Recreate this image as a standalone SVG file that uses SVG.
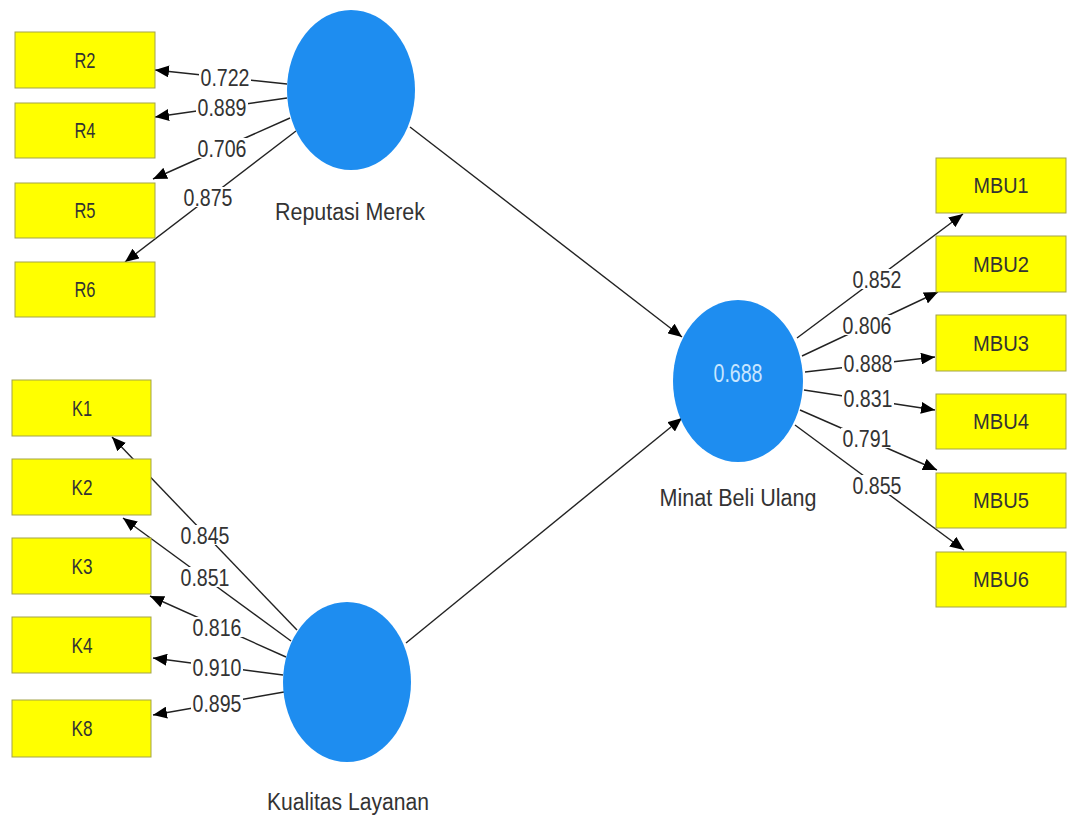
<svg xmlns="http://www.w3.org/2000/svg" width="1067" height="818" viewBox="0 0 1067 818">
<defs>
<style>
.box{fill:#ffff00;stroke:#a3a34a;stroke-width:1}
.lv{fill:#1e8df0}
.t{font-family:"Liberation Sans",Arial,sans-serif;font-size:22px;fill:#333;text-anchor:middle}
.lbl{font-family:"Liberation Sans",Arial,sans-serif;font-size:24px;fill:#333;text-anchor:middle}
.nm{font-family:"Liberation Sans",Arial,sans-serif;font-size:23px;fill:#333;text-anchor:middle}
.ln{stroke:#222;stroke-width:1.4;fill:none;marker-end:url(#ah)}
.bg{fill:#fff}
</style>
<marker id="ah" markerUnits="userSpaceOnUse" markerWidth="14" markerHeight="12" refX="14" refY="6" orient="auto">
<path d="M0,0 L14,6 L0,12 z" fill="#000"/>
</marker>
</defs>
<rect width="1067" height="818" fill="#fff"/>
<g id="connectors">
<line class="ln" x1="287" y1="84" x2="155" y2="70"/>
<line class="ln" x1="287" y1="98" x2="155" y2="117"/>
<line class="ln" x1="290" y1="118" x2="153" y2="179"/>
<line class="ln" x1="296" y1="131" x2="125" y2="262"/>
<line class="ln" x1="297" y1="630" x2="112" y2="437"/>
<line class="ln" x1="291" y1="641" x2="123" y2="518"/>
<line class="ln" x1="286" y1="657" x2="150" y2="596"/>
<line class="ln" x1="283" y1="675" x2="153" y2="658"/>
<line class="ln" x1="284" y1="692" x2="153" y2="715"/>
<line class="ln" x1="797" y1="338" x2="963" y2="214"/>
<line class="ln" x1="802" y1="356" x2="938" y2="292"/>
<line class="ln" x1="805" y1="372" x2="935" y2="357"/>
<line class="ln" x1="804" y1="390" x2="935" y2="410"/>
<line class="ln" x1="800" y1="410" x2="937" y2="470"/>
<line class="ln" x1="795" y1="425" x2="964" y2="550"/>
<line class="ln" x1="410" y1="127" x2="682" y2="337"/>
<line class="ln" x1="406" y1="643" x2="682" y2="418"/>
<g id="loading-labels">
<rect class="bg" x="199" y="67" width="52" height="20"/><text class="lbl" x="225" y="86" textLength="49" lengthAdjust="spacingAndGlyphs">0.722</text>
<rect class="bg" x="196" y="97" width="52" height="20"/><text class="lbl" x="222" y="116" textLength="49" lengthAdjust="spacingAndGlyphs">0.889</text>
<rect class="bg" x="196" y="138" width="52" height="20"/><text class="lbl" x="222" y="157" textLength="49" lengthAdjust="spacingAndGlyphs">0.706</text>
<rect class="bg" x="182" y="187" width="52" height="20"/><text class="lbl" x="208" y="206" textLength="49" lengthAdjust="spacingAndGlyphs">0.875</text>
<rect class="bg" x="179" y="525" width="52" height="20"/><text class="lbl" x="205" y="544" textLength="49" lengthAdjust="spacingAndGlyphs">0.845</text>
<rect class="bg" x="179" y="567" width="52" height="20"/><text class="lbl" x="205" y="586" textLength="49" lengthAdjust="spacingAndGlyphs">0.851</text>
<rect class="bg" x="191" y="617" width="52" height="20"/><text class="lbl" x="217" y="636" textLength="49" lengthAdjust="spacingAndGlyphs">0.816</text>
<rect class="bg" x="191" y="657" width="52" height="20"/><text class="lbl" x="217" y="676" textLength="49" lengthAdjust="spacingAndGlyphs">0.910</text>
<rect class="bg" x="191" y="693" width="52" height="20"/><text class="lbl" x="217" y="712" textLength="49" lengthAdjust="spacingAndGlyphs">0.895</text>
<rect class="bg" x="851" y="269" width="52" height="20"/><text class="lbl" x="877" y="288" textLength="49" lengthAdjust="spacingAndGlyphs">0.852</text>
<rect class="bg" x="841" y="315" width="52" height="20"/><text class="lbl" x="867" y="334" textLength="49" lengthAdjust="spacingAndGlyphs">0.806</text>
<rect class="bg" x="842" y="353" width="52" height="20"/><text class="lbl" x="868" y="372" textLength="49" lengthAdjust="spacingAndGlyphs">0.888</text>
<rect class="bg" x="842" y="388" width="52" height="20"/><text class="lbl" x="868" y="407" textLength="49" lengthAdjust="spacingAndGlyphs">0.831</text>
<rect class="bg" x="841" y="428" width="52" height="20"/><text class="lbl" x="867" y="447" textLength="49" lengthAdjust="spacingAndGlyphs">0.791</text>
<rect class="bg" x="851" y="475" width="52" height="20"/><text class="lbl" x="877" y="494" textLength="49" lengthAdjust="spacingAndGlyphs">0.855</text>
</g>
</g>
<g id="reputasi-merek"><ellipse class="lv" cx="351" cy="90" rx="64" ry="80"/><text class="nm" x="350" y="220" textLength="150" lengthAdjust="spacingAndGlyphs">Reputasi Merek</text></g>
<g id="kualitas-layanan"><ellipse class="lv" cx="347" cy="682" rx="64" ry="80"/><text class="nm" x="348" y="810" textLength="162" lengthAdjust="spacingAndGlyphs">Kualitas Layanan</text></g>
<g id="minat-beli-ulang"><ellipse class="lv" cx="738" cy="381" rx="65" ry="81"/><text class="nm" x="738" y="382" style="fill:#c8e6ff;font-size:26px" textLength="49" lengthAdjust="spacingAndGlyphs">0.688</text><text class="nm" x="738" y="506" textLength="157" lengthAdjust="spacingAndGlyphs">Minat Beli Ulang</text></g>
<g id="R2"><rect class="box" x="15" y="32" width="140" height="56"/><text class="t" x="85" y="68" textLength="21" lengthAdjust="spacingAndGlyphs">R2</text></g>
<g id="R4"><rect class="box" x="15" y="103" width="140" height="55"/><text class="t" x="85" y="138" textLength="21" lengthAdjust="spacingAndGlyphs">R4</text></g>
<g id="R5"><rect class="box" x="15" y="183" width="140" height="55"/><text class="t" x="85" y="218" textLength="21" lengthAdjust="spacingAndGlyphs">R5</text></g>
<g id="R6"><rect class="box" x="15" y="262" width="140" height="55"/><text class="t" x="85" y="297" textLength="21" lengthAdjust="spacingAndGlyphs">R6</text></g>
<g id="K1"><rect class="box" x="12" y="380" width="139" height="56"/><text class="t" x="82" y="416" textLength="20" lengthAdjust="spacingAndGlyphs">K1</text></g>
<g id="K2"><rect class="box" x="12" y="459" width="139" height="56"/><text class="t" x="82" y="495" textLength="21" lengthAdjust="spacingAndGlyphs">K2</text></g>
<g id="K3"><rect class="box" x="12" y="538" width="139" height="56"/><text class="t" x="82" y="574" textLength="21" lengthAdjust="spacingAndGlyphs">K3</text></g>
<g id="K4"><rect class="box" x="12" y="617" width="139" height="56"/><text class="t" x="82" y="653" textLength="21" lengthAdjust="spacingAndGlyphs">K4</text></g>
<g id="K8"><rect class="box" x="12" y="700" width="139" height="57"/><text class="t" x="82" y="736" textLength="21" lengthAdjust="spacingAndGlyphs">K8</text></g>
<g id="MBU1"><rect class="box" x="936" y="158" width="130" height="55"/><text class="t" x="1001" y="193" textLength="55" lengthAdjust="spacingAndGlyphs">MBU1</text></g>
<g id="MBU2"><rect class="box" x="936" y="236" width="130" height="56"/><text class="t" x="1001" y="272" textLength="56" lengthAdjust="spacingAndGlyphs">MBU2</text></g>
<g id="MBU3"><rect class="box" x="936" y="315" width="130" height="56"/><text class="t" x="1001" y="351" textLength="56" lengthAdjust="spacingAndGlyphs">MBU3</text></g>
<g id="MBU4"><rect class="box" x="936" y="394" width="130" height="55"/><text class="t" x="1001" y="429" textLength="56" lengthAdjust="spacingAndGlyphs">MBU4</text></g>
<g id="MBU5"><rect class="box" x="936" y="473" width="130" height="55"/><text class="t" x="1001" y="508" textLength="56" lengthAdjust="spacingAndGlyphs">MBU5</text></g>
<g id="MBU6"><rect class="box" x="936" y="552" width="130" height="55"/><text class="t" x="1001" y="587" textLength="56" lengthAdjust="spacingAndGlyphs">MBU6</text></g>
</svg>
